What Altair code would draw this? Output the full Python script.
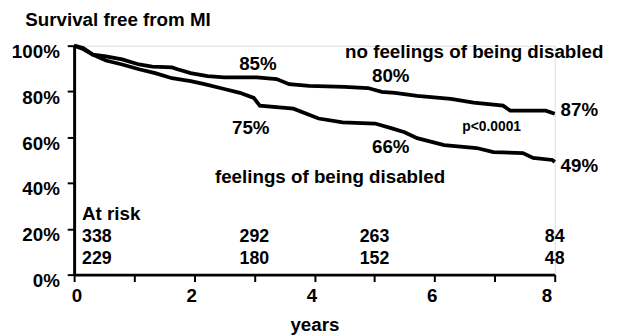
import altair as alt
import pandas as pd

# Kaplan-Meier curves (years, % survival free from MI)
years_no = [0, 0.15, 0.31, 0.53, 0.80, 1.08, 1.30, 1.63, 1.72, 1.94, 2.22, 2.50, 3.04,
            3.37, 3.58, 3.91, 4.50, 4.89, 5.12, 5.34, 5.71, 6.27, 6.65, 7.14, 7.26, 7.85, 8.0]
surv_no = [100, 99.0, 96.1, 95.3, 94.0, 91.8, 90.9, 90.5, 89.7, 88.0, 86.7, 86.2, 86.2,
           85.4, 83.2, 82.4, 82.0, 81.5, 79.8, 79.4, 78.1, 76.8, 75.1, 73.8, 71.6, 71.6, 70.3]

years_dis = [0, 0.15, 0.31, 0.53, 0.80, 1.08, 1.35, 1.63, 1.94, 2.17, 2.50, 2.76, 2.99,
             3.09, 3.65, 4.07, 4.47, 5.01, 5.29, 5.50, 5.71, 6.16, 6.70, 6.98, 7.47, 7.64, 7.96, 8.0]
surv_dis = [100, 98.5, 96.1, 93.5, 91.8, 89.7, 88.0, 85.8, 84.5, 83.2, 81.1, 79.4, 77.2,
            73.8, 72.5, 68.2, 66.5, 66.0, 63.9, 62.2, 59.6, 56.6, 55.3, 53.5, 53.1, 51.0, 50.1, 49.2]

# annotations (data coordinates)
ann_text = ["85%", "75%", "80%", "66%", "87%", "49%"]
ann_x = [3.06, 2.94, 5.27, 5.27, 8.41, 8.41]
ann_y = [91.8, 63.9, 86.7, 55.7, 72.0, 47.5]

group_text = ["no feelings of being disabled", "feelings of being disabled"]
group_x = [6.66, 4.26]
group_y = [97.4, 42.4]

p_text = ["p<0.0001"]
p_x = [6.95]
p_y = [64.3]

risk_years = [0, 3, 5, 8]
risk_no = [338, 292, 263, 84]
risk_dis = [229, 180, 152, 48]
risk_row_y = [16.6, 6.7]
risk_head_y = 26.5

FONT = "Liberation Sans"

lines = pd.concat([
    pd.DataFrame({"t": years_no, "s": surv_no, "g": "no"}),
    pd.DataFrame({"t": years_dis, "s": surv_dis, "g": "dis"}),
])

xs = alt.Scale(domain=[0, 8], nice=False, zero=False)
ys = alt.Scale(domain=[0, 100], nice=False)

base_axis = dict(domainWidth=3, domainColor="black", tickColor="black", tickWidth=2,
                 tickSize=7, labelFont=FONT, labelFontSize=19, labelFontWeight="bold",
                 labelColor="black", grid=False)

line = alt.Chart(lines).mark_line(color="black", strokeWidth=3.8).encode(
    x=alt.X("t:Q", scale=xs,
            axis=alt.Axis(values=list(range(0, 9)),
                          labelExpr="datum.value % 2 == 0 ? format(datum.value, 'd') : ''",
                          labelPadding=5, labelOffset=-3,
                          title="years", titleFont=FONT, titleFontSize=19,
                          titleFontWeight="bold", titleColor="black", titlePadding=11,
                          **base_axis)),
    y=alt.Y("s:Q", scale=ys,
            axis=alt.Axis(values=[0, 20, 40, 60, 80, 100],
                          labelExpr="format(datum.value, 'd') + '%'",
                          labelPadding=8, labelOffset=6,
                          title="Survival free from MI", titleAngle=0, titleAlign="left",
                          titleBaseline="middle", titleX=-50, titleY=-26,
                          titleFont=FONT, titleFontSize=19, titleFontWeight="bold",
                          titleColor="black",
                          **base_axis)),
    detail="g:N",
)

def text_layer(df, size=19, align="center"):
    return alt.Chart(df).mark_text(font=FONT, fontSize=size, fontWeight="bold",
                                   color="black", align=align, baseline="middle").encode(
        x=alt.X("x:Q", scale=xs), y=alt.Y("y:Q", scale=ys), text="label:N")

ann = text_layer(pd.DataFrame({"x": ann_x, "y": ann_y, "label": ann_text}))
grp = text_layer(pd.DataFrame({"x": group_x, "y": group_y, "label": group_text}), size=19)
pv = text_layer(pd.DataFrame({"x": p_x, "y": p_y, "label": p_text}), size=14)

risk_df = pd.DataFrame({
    "x": risk_years * 2,
    "y": [risk_row_y[0]] * 4 + [risk_row_y[1]] * 4,
    "label": [str(v) for v in risk_no + risk_dis],
})
risk_first = alt.Chart(risk_df).transform_filter("datum.x == 0").mark_text(
    font=FONT, fontSize=18, fontWeight="bold", color="black", align="left",
    baseline="middle", dx=8).encode(
    x=alt.X("x:Q", scale=xs), y=alt.Y("y:Q", scale=ys), text="label:N")
risk_rest = alt.Chart(risk_df).transform_filter("datum.x > 0").mark_text(
    font=FONT, fontSize=18, fontWeight="bold", color="black", align="center",
    baseline="middle").encode(
    x=alt.X("x:Q", scale=xs), y=alt.Y("y:Q", scale=ys), text="label:N")
risk_head = alt.Chart(pd.DataFrame({"x": [0], "y": [risk_head_y], "label": ["At risk"]})).mark_text(
    font=FONT, fontSize=19, fontWeight="bold", color="black", align="left",
    baseline="middle", dx=8).encode(
    x=alt.X("x:Q", scale=xs), y=alt.Y("y:Q", scale=ys), text="label:N")

chart = alt.layer(line, ann, grp, pv, risk_first, risk_rest, risk_head).properties(
    width=487, height=232,
    autosize=alt.AutoSizeParams(type="none"),
    padding={"left": 67, "top": 36, "right": 56, "bottom": 60},
).configure_view(stroke=None).configure(background="white")

chart.save("out.html", embed_options={"renderer": "svg", "actions": False})
